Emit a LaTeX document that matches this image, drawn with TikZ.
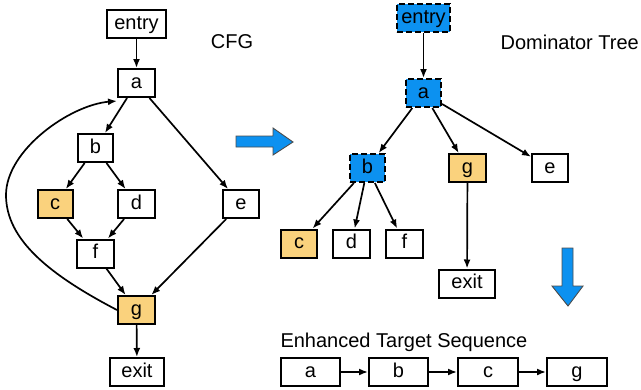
\documentclass[tikz,border=0pt]{standalone}
\usepackage{fontspec}
\setmainfont{Liberation Sans}
\usetikzlibrary{arrows.meta}
\definecolor{orng}{RGB}{250,210,125}
\definecolor{blu}{RGB}{12,145,240}
\begin{document}
\begin{tikzpicture}[x=1pt,y=-1pt,
  font=\fontsize{20}{23}\selectfont,
  box/.style={draw=black,line width=2pt,inner sep=0pt,minimum height=28pt,minimum width=37pt,text height=14pt,text depth=4pt},
  hot/.style={box,fill=orng},
  dom/.style={box,fill=blu,dash pattern=on 6pt off 3pt},
  edge/.style={line width=1.7pt,-{Latex[length=9pt,width=7pt]}},
  bigarrow/.style={fill=blu,draw=black!70,line width=0.9pt}]
\useasboundingbox (0,0) rectangle (641,389);
% CFG
\node[box,minimum width=59pt] (entry) at (136.5,24) {entry};
\node[box] (a) at (136.5,83) {a};
\node[box,minimum width=35pt] (b) at (95.5,148) {b};
\node[hot,minimum width=35pt] (c) at (55,204) {c};
\node[box] (d) at (136.5,204) {d};
\node[box,minimum width=36pt] (e) at (241,204) {e};
\node[box] (f) at (95.5,253.5) {f};
\node[hot] (g) at (136.5,310) {g};
\node[box,minimum width=54pt] (exit) at (137,372) {exit};
\node (cfgt) at (232,42) {CFG};
\draw[edge] (entry) -- (a);
\draw[edge] (a) -- (b);
\draw[edge] (a) -- (e);
\draw[edge] (b) -- (c);
\draw[edge] (b) -- (d);
\draw[edge] (c) -- (f);
\draw[edge] (d) -- (f);
\draw[edge] (f) -- (g);
\draw[edge] (e) -- (g);
\draw[edge] (g) -- (exit);
\coordinate (lp) at (6,195);
\draw[edge] (g.west) .. controls (50,275) and (6,240) .. (lp)
  .. controls (6,150) and (70,105) .. ([yshift=-3pt]a.south west);
% right arrow
\draw[bigarrow] (236,136) -- (273,136) -- (273,128) -- (293,142) -- (273,155) -- (273,147) -- (236,147) -- cycle;
% Dominator tree
\node[dom,minimum width=53pt] (Dentry) at (423.5,18) {entry};
\node[dom,minimum width=35pt] (Da) at (423.5,93) {a};
\node[dom,minimum width=35pt] (Db) at (367.5,168) {b};
\node[hot] (Dg) at (467.5,168) {g};
\node[box,minimum width=36pt] (De) at (550,168) {e};
\node[hot,minimum width=36pt] (Dc) at (299,243.5) {c};
\node[box] (Dd) at (351.5,243.5) {d};
\node[box] (Df) at (404.5,243.5) {f};
\node[box,minimum width=56pt] (Dexit) at (467,283.5) {exit};
\node[anchor=east,inner xsep=0pt] (domt) at (639,42) {Dominator Tree};
\draw[edge] (Dentry) -- (Da);
\draw[edge] (Da) -- (Db);
\draw[edge] (Da) -- (Dg);
\draw[edge] (Da) -- (De);
\draw[edge] (Db) -- (Dc);
\draw[edge] (Db) -- (Dd);
\draw[edge] (Db) -- (Df);
\draw[edge] (Dg) -- (Dexit);
% down arrow
\draw[bigarrow] (562,248) -- (573,248) -- (573,286) -- (583,286) -- (568,306) -- (552,286) -- (562,286) -- cycle;
% Sequence
\node[anchor=west] (seqt) at (277,342) {Enhanced Target Sequence};
\node[box,minimum width=59pt] (Sa) at (310.5,372) {a};
\node[box,minimum width=59pt] (Sb) at (398.5,372) {b};
\node[box,minimum width=60pt] (Sc) at (488,372) {c};
\node[box,minimum width=60pt] (Sg) at (577,372) {g};
\draw[edge] (Sa) -- (Sb);
\draw[edge] (Sb) -- (Sc);
\draw[edge] (Sc) -- (Sg);
\end{tikzpicture}
\end{document}
